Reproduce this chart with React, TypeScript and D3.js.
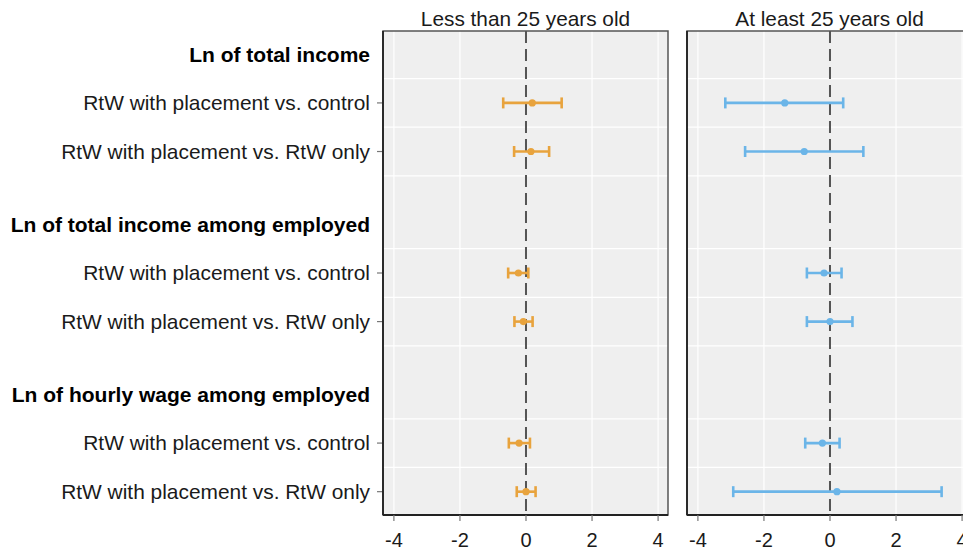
import React from "react";
import * as d3 from "d3";

const panels = ["Less than 25 years old", "At least 25 years old"];
const groups = [
  "Ln of total income",
  "Ln of total income among employed",
  "Ln of hourly wage among employed",
];
const comparisons = ["RtW with placement vs. control", "RtW with placement vs. RtW only"];
const xTicks = [-4, -2, 0, 2, 4];

// estimates per row (group x comparison), for each panel
const youngEst = [0.19, 0.15, -0.23, -0.08, -0.21, 0.0];
const youngLo = [-0.69, -0.36, -0.54, -0.35, -0.52, -0.28];
const youngHi = [1.08, 0.7, 0.07, 0.2, 0.12, 0.29];
const oldEst = [-1.37, -0.78, -0.18, 0.0, -0.23, 0.21];
const oldLo = [-3.17, -2.57, -0.7, -0.7, -0.75, -2.93];
const oldHi = [0.4, 1.01, 0.35, 0.68, 0.29, 3.38];
const colors = ["#E8A33D", "#6BB5E8"];

const W = 963;
const H = 552;
const panelTop = 31;
const panelBottom = 515;
const panelLefts = [383, 687];
const panelWidth = 285;
const font = "'Liberation Sans', Arial, sans-serif";

// row units: header at 0, rows at 1,2; header 3.5, rows 4.5,5.5; header 7, rows 8,9
const headerPos = [0, 3.5, 7];
const rowPos = [1, 2, 4.5, 5.5, 8, 9];
const gridPos = [0.5, 1.5, 2.5, 4, 5, 6, 7.5, 8.5, 9.5];

export default function App() {
  const y = d3.scaleLinear().domain([-0.48, 9.48]).range([panelTop, panelBottom]);
  const data = [
    { est: youngEst, lo: youngLo, hi: youngHi },
    { est: oldEst, lo: oldLo, hi: oldHi },
  ];
  return (
    <svg width={W} height={H} style={{ position: "absolute", left: 0, top: 0 }} fontFamily={font}>
      <rect x={0} y={0} width={W} height={H} fill="#ffffff" />
      {headerPos.map((p, i) => (
        <text key={"h" + i} x={370} y={y(p)} dy="0.35em" textAnchor="end" fontSize={21} fontWeight="bold" fill="#000">
          {groups[i]}
        </text>
      ))}
      {rowPos.map((p, i) => (
        <g key={"r" + i}>
          <text x={370} y={y(p)} dy="0.35em" textAnchor="end" fontSize={20.9} fill="#1a1a1a">
            {comparisons[i % 2]}
          </text>
          <line x1={377} x2={383} y1={y(p)} y2={y(p)} stroke="#777" strokeWidth={1.2} />
        </g>
      ))}
      {panels.map((title, pi) => {
        const x0 = panelLefts[pi];
        const x = d3.scaleLinear().domain([-4.33, 4.3]).range([x0, x0 + panelWidth]);
        const d = data[pi];
        return (
          <g key={"p" + pi}>
            <text x={x0 + panelWidth / 2} y={26} textAnchor="middle" fontSize={20.8} fill="#1a1a1a">
              {title}
            </text>
            <rect x={x0} y={panelTop} width={panelWidth} height={panelBottom - panelTop} fill="#EFEFEF" />
            {gridPos.map((g, i) => (
              <line key={"gy" + i} x1={x0} x2={x0 + panelWidth} y1={y(g)} y2={y(g)} stroke="#ffffff" strokeWidth={1.2} />
            ))}
            {xTicks.filter((t) => t !== 0).map((t) => (
              <line key={"gx" + t} x1={x(t)} x2={x(t)} y1={panelTop} y2={panelBottom} stroke="#ffffff" strokeWidth={1.2} />
            ))}
            <line x1={x(0)} x2={x(0)} y1={panelTop} y2={panelBottom} stroke="#555" strokeWidth={2} strokeDasharray="12,6" />
            {rowPos.map((p, i) => {
              const yy = y(p);
              return (
                <g key={"e" + i} stroke={colors[pi]} strokeWidth={2.6}>
                  <line x1={x(d.lo[i])} x2={x(d.hi[i])} y1={yy} y2={yy} />
                  <line x1={x(d.lo[i])} x2={x(d.lo[i])} y1={yy - 5.5} y2={yy + 5.5} />
                  <line x1={x(d.hi[i])} x2={x(d.hi[i])} y1={yy - 5.5} y2={yy + 5.5} />
                  <circle cx={x(d.est[i])} cy={yy} r={3.6} fill={colors[pi]} stroke="none" />
                </g>
              );
            })}
            <rect x={x0} y={panelTop} width={panelWidth} height={panelBottom - panelTop} fill="none" stroke="#555" strokeWidth={1.5} />
            <line x1={x0} x2={x0} y1={panelTop} y2={panelBottom} stroke="#222" strokeWidth={1.8} />
            <line x1={x0} x2={x0 + panelWidth} y1={panelBottom} y2={panelBottom} stroke="#222" strokeWidth={1.8} />
            {xTicks.map((t) => (
              <g key={"t" + t}>
                <line x1={x(t)} x2={x(t)} y1={panelBottom} y2={panelBottom + 6} stroke="#777" strokeWidth={1.2} />
                <text x={x(t)} y={547} textAnchor="middle" fontSize={20} fill="#1a1a1a">
                  {t}
                </text>
              </g>
            ))}
          </g>
        );
      })}
    </svg>
  );
}
